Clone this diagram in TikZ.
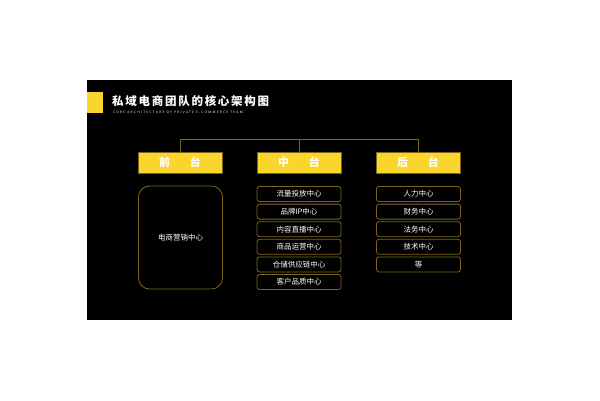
\documentclass[tikz,border=0pt]{standalone}
\usepackage{fontspec}
\setmainfont{Noto Sans CJK SC}
\newfontfamily\titlefont[LetterSpace=15]{Noto Sans CJK SC}
\newfontfamily\subfont[LetterSpace=40]{Noto Sans}
\usetikzlibrary{positioning}
\definecolor{gold}{RGB}{250,214,45}
\definecolor{rim}{RGB}{125,102,26}

\begin{document}
\begin{tikzpicture}[x=1pt,y=-1pt]
\tikzstyle{tier}=[draw=rim, fill=gold, line width=0.8pt, minimum width=84pt, minimum height=21pt, inner sep=0pt, text=white, font=\fontsize{11}{11}\selectfont\bfseries]
\tikzstyle{unit}=[draw=rim, rounded corners=2.5pt, line width=0.8pt, minimum width=84pt, minimum height=15pt, inner sep=0pt, text=white, font=\fontsize{7.5}{8}\selectfont]
\tikzstyle{link}=[draw=rim, line width=0.8pt]

\useasboundingbox (0,0) rectangle (600,400);
\fill[white] (0,0) rectangle (600,400);
\fill[black] (87,80) rectangle (512,320);
\fill[gold] (87,92) rectangle (103,113);

\node[anchor=west, inner sep=0pt, text=white, font=\titlefont\fontsize{11.5}{12}\selectfont\bfseries] (title) at (112,101.5) {私域电商团队的核心架构图};
\node[anchor=west, inner sep=0pt, text=white, font=\subfont\fontsize{3.2}{4}\selectfont\bfseries] (subtitle) at (113,112.5) {CORE\ ARCHITECTURE\ OF\ PRIVATE\ E-COMMERCE\ TEAM};

\node[tier] (front) at (180,162.5) {前\hspace{1.8em}台};
\node[tier] (middle) at (299,162.5) {中\hspace{1.8em}台};
\node[tier] (back) at (418,162.5) {后\hspace{1.8em}台};

\coordinate (bus) at (299,139.5);
\path[link]
(front.north) |- (bus) -| (back.north)
(bus) -- (middle.north);

\node[unit, minimum height=103pt, rounded corners=11pt] (shop) at (180.5,237.5) {电商营销中心};

\foreach \name [count=\i] in {流量投放中心, 品牌IP中心, 内容直播中心, 商品运营中心, 仓储供应链中心, 客户品质中心}
  \node[unit] (m\i) at (299,{194+(\i-1)*17.6}) {\name};

\foreach \name [count=\i] in {人力中心, 财务中心, 法务中心, 技术中心, 等}
  \node[unit] (b\i) at (418.5,{194+(\i-1)*17.6}) {\name};

\end{tikzpicture}
\end{document}
